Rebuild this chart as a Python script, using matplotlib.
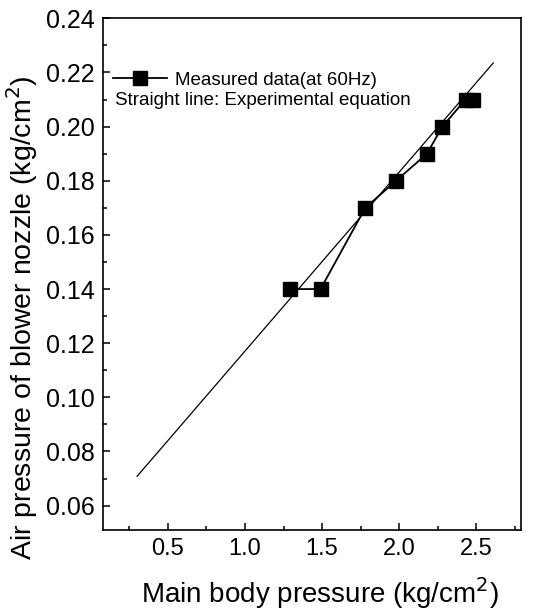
import numpy as np
import matplotlib.pyplot as plt
from matplotlib.ticker import MultipleLocator

plt.rcParams['font.family'] = ['Liberation Sans', 'DejaVu Sans']

# measured blower nozzle pressure vs main body pressure (60 Hz)
main_p = [1.29, 1.49, 1.78, 1.98, 2.18, 2.28, 2.43, 2.48]
nozzle_p = [0.14, 0.14, 0.17, 0.18, 0.19, 0.20, 0.21, 0.21]

# experimental equation: y = a + b*x
eq_a = 0.0510
eq_b = 0.0661
eq_x = [0.30, 2.61]

fig = plt.figure(figsize=(5.33, 6.13), dpi=100)
ax = fig.add_axes([0.1927, 0.1354, 0.7848, 0.8347])

xs = np.array(eq_x)
ax.plot(xs, eq_a + eq_b * xs, color='black', lw=0.9)
ax.plot(main_p, nozzle_p, '-s', color='black', lw=1.3, ms=10.5,
        label='Measured data(at 60Hz)')

ax.set_xlim(0.077, 2.79)
ax.set_ylim(0.051, 0.24)
ax.xaxis.set_major_locator(MultipleLocator(0.5))
ax.xaxis.set_minor_locator(MultipleLocator(0.25))
ax.yaxis.set_minor_locator(MultipleLocator(0.01))
yt = np.arange(0.06, 0.241, 0.02)
ax.set_yticks(yt)
ax.set_yticklabels([f'{v:.2f}' for v in yt])
ax.tick_params(which='both', direction='in', top=False, right=False, width=1.1)
ax.tick_params(which='major', length=5)
ax.tick_params(which='minor', length=3)
ax.tick_params(axis='y', labelsize=18, pad=6)
ax.tick_params(axis='x', labelsize=17, pad=6)
for s in ax.spines.values():
    s.set_linewidth(1.2)

ax.set_xlabel('Main body pressure (kg/cm$^2$)', fontsize=20)
ax.xaxis.set_label_coords(0.52, -0.088)
ax.set_ylabel('Air pressure of blower nozzle (kg/cm$^2$)', fontsize=20.5)
ax.yaxis.set_label_coords(-0.15, 0.415)

ax.legend(loc='center left', bbox_to_anchor=(0.0246, 0.879), frameon=False,
          fontsize=13.5, handlelength=2.9, handletextpad=0.43,
          borderpad=0, borderaxespad=0)
ax.text(0.029, 0.840, 'Straight line: Experimental equation', transform=ax.transAxes,
        fontsize=13.5, va='center')

fig.savefig('out.png', dpi=100)
